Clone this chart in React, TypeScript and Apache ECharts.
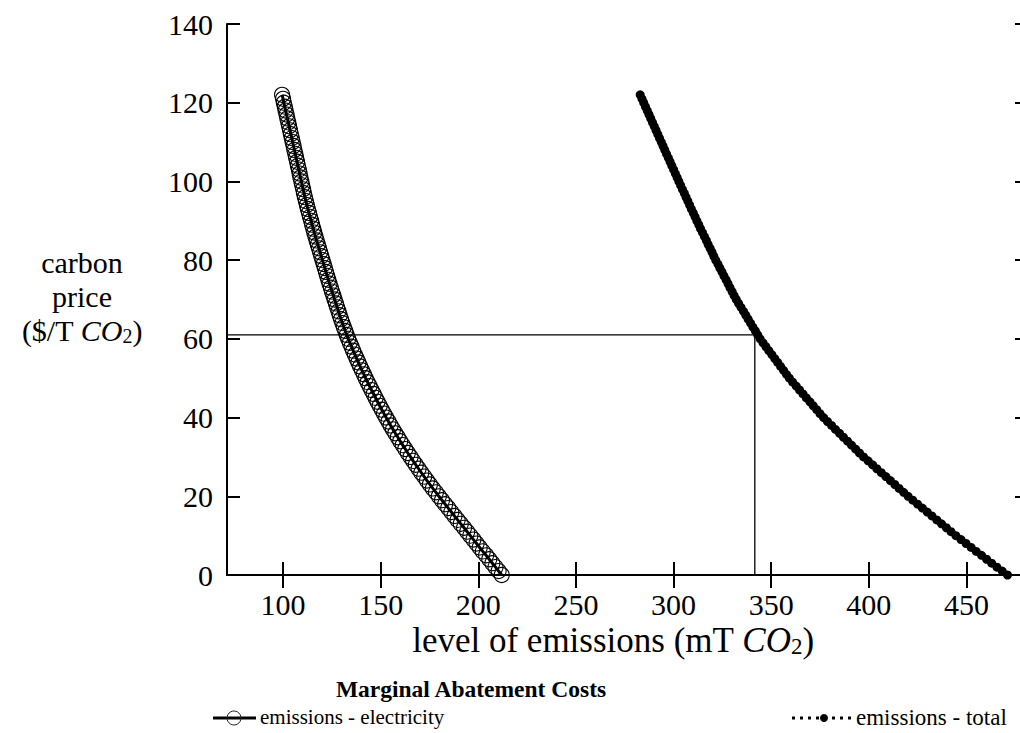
import React, { useEffect, useRef } from "react";
import * as echarts from "echarts";

// carbon price ($/T CO2) sampled along both curves
const prices = [
  0, 1, 2, 3, 4, 5, 6, 7, 8, 9, 10, 11, 12, 13, 14, 15, 16, 17, 18, 19,
  20, 21, 22, 23, 24, 25, 26, 27, 28, 29, 30, 31, 32, 33, 34, 35, 36, 37, 38, 39,
  40, 41, 42, 43, 44, 45, 46, 47, 48, 49, 50, 51, 52, 53, 54, 55, 56, 57, 58, 59,
  60, 61, 62, 63, 64, 65, 66, 67, 68, 69, 70, 71, 72, 73, 74, 75, 76, 77, 78, 79,
  80, 81, 82, 83, 84, 85, 86, 87, 88, 89, 90, 91, 92, 93, 94, 95, 96, 97, 98, 99,
  100, 101, 102, 103, 104, 105, 106, 107, 108, 109, 110, 111, 112, 113, 114, 115,
  116, 117, 118, 119, 120, 121, 122,
];

// level of emissions (mT CO2), electricity, at each price above
const electricityEmissions = [
  212.0, 210.4, 208.8, 207.2, 205.6, 204.0, 202.3, 200.7, 199.1, 197.5,
  195.9, 194.3, 192.7, 191.0, 189.4, 187.8, 186.2, 184.6, 183.0, 181.4,
  179.8, 178.3, 176.7, 175.2, 173.7, 172.3, 170.8, 169.4, 168.0, 166.6,
  165.3, 163.9, 162.6, 161.3, 160.0, 158.8, 157.5, 156.3, 155.1, 154.0,
  152.8, 151.7, 150.6, 149.5, 148.4, 147.4, 146.4, 145.3, 144.3, 143.3,
  142.3, 141.4, 140.4, 139.5, 138.6, 137.7, 136.8, 135.9, 135.1, 134.2,
  133.4, 132.6, 131.9, 131.1, 130.4, 129.7, 129.0, 128.4, 127.7, 127.1,
  126.4, 125.8, 125.1, 124.5, 123.8, 123.2, 122.6, 122.0, 121.4, 120.8,
  120.2, 119.6, 119.0, 118.4, 117.8, 117.2, 116.6, 116.0, 115.5, 114.9,
  114.4, 113.8, 113.3, 112.7, 112.2, 111.7, 111.2, 110.7, 110.3, 109.8,
  109.4, 108.9, 108.5, 108.1, 107.6, 107.2, 106.7, 106.3, 105.8, 105.4,
  104.9, 104.5, 104.0, 103.6, 103.1, 102.7, 102.2, 101.8, 101.3, 100.9,
  100.4, 100.0, 99.5,
];

// level of emissions (mT CO2), total, at each price above
const totalEmissions = [
  471.0, 468.3, 465.6, 462.9, 460.3, 457.7, 455.0, 452.4, 449.8, 447.2,
  444.6, 442.1, 439.7, 437.2, 434.8, 432.3, 429.9, 427.4, 425.0, 422.5,
  420.1, 417.8, 415.5, 413.3, 411.0, 408.7, 406.4, 404.1, 401.9, 399.6,
  397.3, 395.2, 393.2, 391.1, 389.1, 387.0, 385.0, 382.9, 380.9, 378.8,
  376.8, 375.0, 373.3, 371.5, 369.8, 368.0, 366.3, 364.5, 362.8, 361.0,
  359.3, 357.8, 356.3, 354.8, 353.3, 351.8, 350.3, 348.8, 347.3, 345.8,
  344.3, 343.1, 341.9, 340.6, 339.4, 338.2, 337.0, 335.8, 334.5, 333.3,
  332.1, 331.0, 330.0, 328.9, 327.9, 326.9, 325.8, 324.8, 323.7, 322.7,
  321.6, 320.6, 319.7, 318.7, 317.7, 316.8, 315.8, 314.8, 313.8, 312.9,
  311.9, 311.0, 310.1, 309.1, 308.2, 307.3, 306.4, 305.5, 304.5, 303.6,
  302.7, 301.8, 300.9, 300.0, 299.1, 298.2, 297.3, 296.4, 295.5, 294.6,
  293.7, 292.8, 291.9, 291.0, 290.1, 289.2, 288.3, 287.4, 286.5, 285.6,
  284.7, 283.8, 282.9,
];

// reference marker: price level and the corresponding total emissions
const refPrice = 61;
const refEmissions = 341.6;

// axes
const xMin = 71.3;
const xMax = 481.5;
const xTicks = [100, 150, 200, 250, 300, 350, 400, 450];
const yMin = 0;
const yMax = 140;
const yStep = 20;

const seriesNames = ["emissions - electricity", "emissions - total"];
const chartTitle = "Marginal Abatement Costs";

const FONT = "'Liberation Serif', 'Times New Roman', serif";

export default function App() {
  const ref = useRef<HTMLDivElement>(null);

  useEffect(() => {
    if (!ref.current) return;
    const chart = echarts.init(ref.current, undefined, { renderer: "svg" });

    const elecData = prices.map((p, i) => [electricityEmissions[i], p]);
    const totalData = prices.map((p, i) => [totalEmissions[i], p]);
    const refData = [
      [xMin, refPrice],
      [refEmissions, refPrice],
      [refEmissions, 0],
    ];

    const axisLine = { show: true, lineStyle: { color: "#000", width: 2 } };
    const tick = { show: true, inside: true, length: 13, lineStyle: { color: "#000", width: 2 } };
    const labelStyle = { color: "#000", fontFamily: FONT, fontSize: 30 };

    const richY = {
      a: { fontFamily: FONT, fontSize: 30, color: "#000", lineHeight: 34 },
      i: { fontFamily: FONT, fontSize: 30, color: "#000", fontStyle: "italic", lineHeight: 34 },
      s: { fontFamily: FONT, fontSize: 20, color: "#000", padding: [12, 0, 0, 0], lineHeight: 34 },
    };
    const richX = {
      a: { fontFamily: FONT, fontSize: 35, color: "#000", lineHeight: 36 },
      i: { fontFamily: FONT, fontSize: 35, color: "#000", fontStyle: "italic", lineHeight: 36 },
      s: { fontFamily: FONT, fontSize: 23, color: "#000", padding: [13, 0, 0, 0], lineHeight: 36 },
    };

    chart.setOption({
      animation: false,
      backgroundColor: "#fff",
      grid: { left: 227, top: 24, width: 801, height: 551, outerBoundsMode: "none", containLabel: false },
      xAxis: [
        {
          type: "value",
          position: "bottom",
          min: xMin,
          max: xMax,
          axisLine,
          axisTick: { ...tick, customValues: xTicks },
          axisLabel: { ...labelStyle, margin: 14, customValues: xTicks },
          splitLine: { show: false },
        },
        {
          type: "value",
          position: "top",
          min: xMin,
          max: xMax,
          axisLine,
          axisTick: { ...tick, customValues: xTicks },
          axisLabel: { show: false },
          splitLine: { show: false },
        },
      ],
      yAxis: [
        {
          type: "value",
          position: "left",
          min: yMin,
          max: yMax,
          interval: yStep,
          axisLine,
          axisTick: tick,
          axisLabel: { ...labelStyle, margin: 14 },
          splitLine: { show: false },
        },
        {
          type: "value",
          position: "right",
          min: yMin,
          max: yMax,
          interval: yStep,
          axisLine,
          axisTick: tick,
          axisLabel: { show: false },
          splitLine: { show: false },
        },
      ],
      series: [
        {
          name: "reference",
          type: "line",
          data: refData,
          symbol: "none",
          lineStyle: { color: "#000", width: 1.3 },
          z: 1,
        },
        {
          name: seriesNames[0],
          type: "line",
          data: elecData,
          symbol: "circle",
          symbolSize: 15,
          itemStyle: { color: "rgba(0,0,0,0)", borderColor: "#000", borderWidth: 1.1 },
          lineStyle: { color: "#000", width: 3 },
          z: 3,
        },
        {
          name: seriesNames[1],
          type: "line",
          data: totalData,
          symbol: "circle",
          symbolSize: 9,
          itemStyle: { color: "#000" },
          lineStyle: { color: "#000", width: 3, type: "dotted" },
          z: 3,
        },
      ],
      graphic: [
        {
          type: "text",
          x: 82,
          y: 296,
          style: {
            text: "{a|carbon}\n{a|price}\n{a|($/T }{i|CO}{s|2}{a|)}",
            rich: richY,
            align: "center",
            verticalAlign: "middle",
          },
        },
        {
          type: "text",
          x: 613,
          y: 640,
          style: {
            text: "{a|level of emissions (mT }{i|CO}{s|2}{a|)}",
            rich: richX,
            align: "center",
            verticalAlign: "middle",
          },
        },
        {
          type: "text",
          x: 471,
          y: 689,
          style: {
            text: chartTitle,
            align: "center",
            verticalAlign: "middle",
            font: `bold 23.5px ${FONT}`,
            fill: "#000",
          },
        },
        // legend: electricity
        {
          type: "line",
          shape: { x1: 213, y1: 718, x2: 256, y2: 718 },
          style: { stroke: "#000", lineWidth: 3 },
        },
        {
          type: "circle",
          shape: { cx: 234, cy: 718, r: 7 },
          style: { fill: "none", stroke: "#222", lineWidth: 1 },
        },
        {
          type: "text",
          x: 260,
          y: 717,
          style: {
            text: seriesNames[0],
            align: "left",
            verticalAlign: "middle",
            font: `21px ${FONT}`,
            fill: "#000",
          },
        },
        // legend: total
        {
          type: "line",
          shape: { x1: 792, y1: 718, x2: 851, y2: 718 },
          style: { stroke: "#000", lineWidth: 3, lineDash: [3, 5] },
        },
        {
          type: "circle",
          shape: { cx: 824, cy: 718, r: 4 },
          style: { fill: "#000" },
        },
        {
          type: "text",
          x: 856,
          y: 717,
          style: {
            text: seriesNames[1],
            align: "left",
            verticalAlign: "middle",
            font: `23px ${FONT}`,
            fill: "#000",
          },
        },
      ],
    });

    return () => chart.dispose();
  }, []);

  return (
    <div
      ref={ref}
      style={{ position: "fixed", left: 0, top: 0, width: 1020, height: 733, background: "#fff" }}
    />
  );
}
